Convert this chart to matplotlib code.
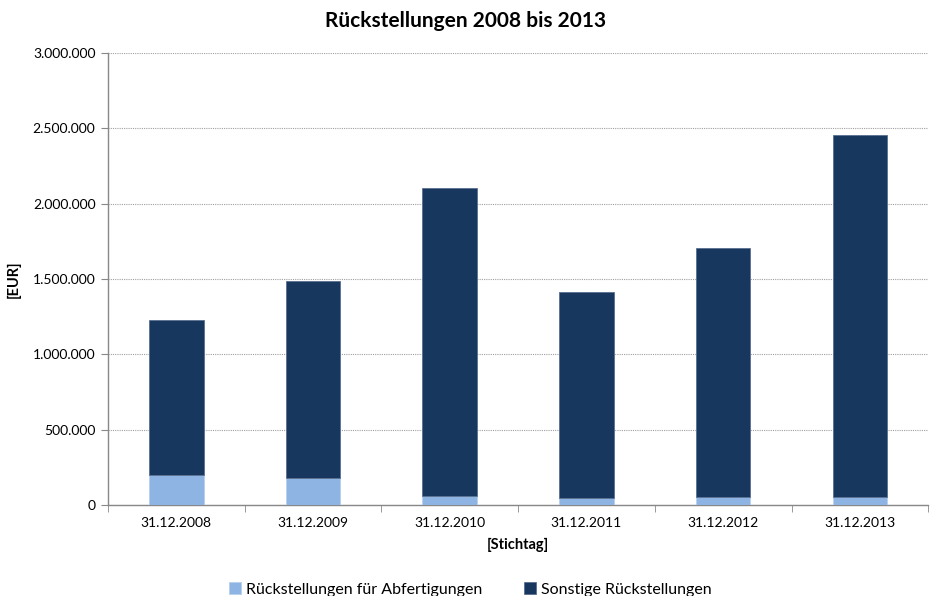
import numpy as np
import matplotlib.pyplot as plt
import matplotlib as mpl
from matplotlib.ticker import FuncFormatter, FixedLocator

mpl.rcParams.update({
    'font.family': ['Lato', 'DejaVu Sans'],
    'font.size': 10,
})

# Rückstellungen je Stichtag (EUR)
stichtage = ['31.12.2008', '31.12.2009', '31.12.2010',
             '31.12.2011', '31.12.2012', '31.12.2013']
abfertigungen = [198000, 175000, 58000, 46000, 51000, 51000]
sonstige = [1030000, 1312000, 2046000, 1368000, 1655000, 2405000]

light = '#8EB4E3'
dark = '#17375E'

fig = plt.figure(figsize=(9.31, 5.96), dpi=100)
ax = fig.add_axes([0.116, 0.153, 0.881, 0.758])

x = np.arange(len(stichtage))
w = 0.40
ax.bar(x, abfertigungen, width=w, color=light, edgecolor='#b8d0ee',
       linewidth=0.6, label='Rückstellungen für Abfertigungen', zorder=3)
ax.bar(x, sonstige, width=w, bottom=abfertigungen, color=dark,
       edgecolor='#5a7090', linewidth=0.6,
       label='Sonstige Rückstellungen', zorder=3)

ax.set_xlim(-0.5, len(stichtage) - 0.5)
ax.set_ylim(0, 3000000)
ax.set_yticks(np.arange(0, 3000001, 500000))
ax.yaxis.set_major_formatter(FuncFormatter(
    lambda v, p: f'{int(v):,}'.replace(',', '.')))
ax.grid(axis='y', color='#a0a0a0', linestyle=(0, (1, 1)), linewidth=0.8,
        zorder=0)

# Kategorie-Beschriftungen mittig, Teilstriche zwischen den Säulen
ax.set_xticks(x)
ax.set_xticklabels(stichtage)
ax.tick_params(axis='x', length=0, labelsize=10, pad=9)
ax.xaxis.set_minor_locator(FixedLocator(np.arange(-0.5, len(stichtage), 1)))
ax.tick_params(axis='x', which='minor', length=5, color='#888888')
ax.tick_params(axis='y', length=5, color='#888888', labelsize=10, pad=4)

for s in ['top', 'right']:
    ax.spines[s].set_visible(False)
for s in ['left', 'bottom']:
    ax.spines[s].set_color('#888888')
    ax.spines[s].set_linewidth(1.0)

ax.set_xlabel('[Stichtag]', fontsize=10.5, fontweight='bold', labelpad=6)
ax.set_ylabel('[EUR]', fontsize=10.5, fontweight='bold')
ax.yaxis.set_label_coords(-0.106, 0.5)
fig.suptitle('Rückstellungen 2008 bis 2013', fontsize=15,
             fontweight='bold', y=0.982)

fig.legend(loc='lower center', bbox_to_anchor=(0.505, -0.025), ncol=2,
           frameon=False, fontsize=11.5, handlelength=0.75, handleheight=0.75,
           handletextpad=0.3, columnspacing=2.6)

fig.savefig('out.png', dpi=100, facecolor='white')
